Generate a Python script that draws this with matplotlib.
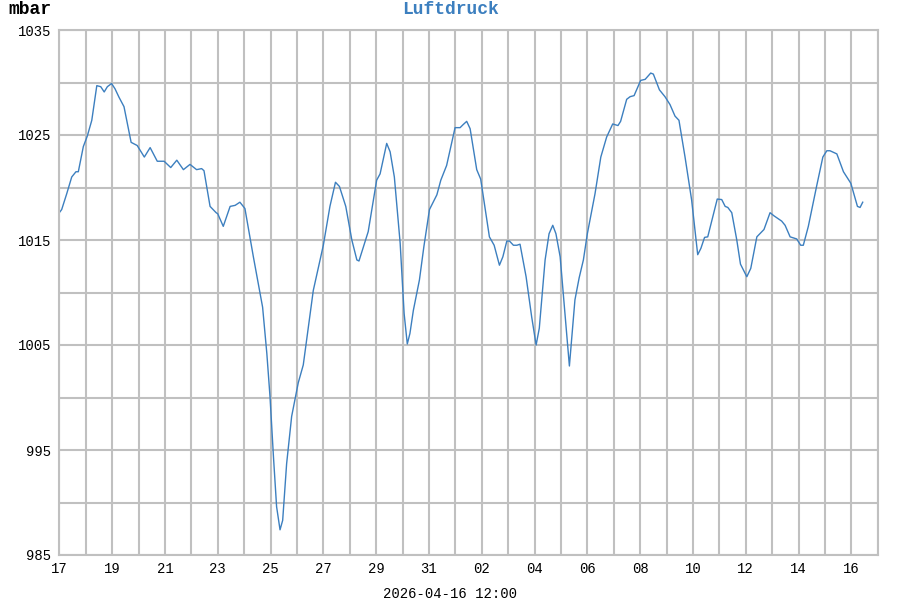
import numpy as np
import pandas as pd
import matplotlib
matplotlib.use("Agg")
from matplotlib import pyplot as plt

# days since 2026-03-17 00:00 and pressure in mbar
day_offset = [
    0.00, 0.09, 0.28, 0.47, 0.63, 0.72, 0.91, 1.06, 1.23, 1.42, 1.57, 1.70, 1.82, 1.98,
    2.11, 2.26, 2.45, 2.72, 2.95, 3.22, 3.44, 3.71, 3.97, 4.22, 4.45, 4.70, 4.95, 5.20,
    5.39, 5.48, 5.71, 5.94, 6.00, 6.21, 6.47, 6.66, 6.84, 7.03, 7.35, 7.70, 7.86, 7.98,
    8.11, 8.23, 8.36, 8.46, 8.61, 8.80, 9.05, 9.24, 9.62, 10.00, 10.25, 10.46, 10.61,
    10.85, 11.08, 11.27, 11.35, 11.70, 12.02, 12.15, 12.40, 12.53, 12.69, 12.91, 13.06,
    13.18, 13.28, 13.41, 13.64, 13.81, 14.02, 14.30, 14.45, 14.67, 14.99, 15.18, 15.30,
    15.43, 15.56, 15.81, 15.96, 16.29, 16.47, 16.67, 16.80, 16.95, 17.05, 17.20, 17.33,
    17.45, 17.68, 17.89, 18.06, 18.18, 18.40, 18.55, 18.69, 18.81, 18.97, 19.16, 19.32,
    19.53, 19.69, 19.85, 20.00, 20.29, 20.51, 20.73, 20.96, 21.16, 21.26, 21.49, 21.62,
    21.77, 22.02, 22.19, 22.40, 22.50, 22.73, 22.94, 23.13, 23.32, 23.47, 23.70, 23.95,
    24.18, 24.30, 24.44, 24.56, 24.92, 25.09, 25.22, 25.32, 25.47, 25.66, 25.80, 26.04,
    26.19, 26.42, 26.69, 26.92, 27.07, 27.36, 27.49, 27.68, 27.93, 28.08, 28.18, 28.37,
    28.69, 28.92, 29.07, 29.19, 29.45, 29.70, 29.98, 30.23, 30.33, 30.43,
]
pressure = [
    1017.6, 1017.9, 1019.4, 1021.0, 1021.5, 1021.5, 1023.9, 1024.9, 1026.4, 1029.7, 1029.6,
    1029.1, 1029.6, 1029.9, 1029.4, 1028.6, 1027.7, 1024.3, 1024.0, 1022.9, 1023.8, 1022.5,
    1022.5, 1021.9, 1022.6, 1021.7, 1022.2, 1021.7, 1021.8, 1021.6, 1018.2, 1017.6, 1017.5,
    1016.3, 1018.2, 1018.3, 1018.6, 1018.0, 1013.4, 1008.6, 1004.2, 1000.1, 994.4, 989.6,
    987.4, 988.3, 993.7, 998.2, 1001.4, 1003.1, 1010.2, 1014.5, 1018.2, 1020.5, 1020.1,
    1018.2, 1015.0, 1013.1, 1013.0, 1015.8, 1020.7, 1021.3, 1024.2, 1023.4, 1021.0, 1014.7,
    1008.0, 1005.1, 1006.1, 1008.3, 1011.2, 1014.4, 1017.9, 1019.3, 1020.7, 1022.1, 1025.7,
    1025.7, 1026.0, 1026.3, 1025.6, 1021.7, 1020.8, 1015.3, 1014.5, 1012.6, 1013.4, 1014.9,
    1014.9, 1014.5, 1014.5, 1014.6, 1011.5, 1007.7, 1005.0, 1006.6, 1013.1, 1015.6, 1016.4,
    1015.6, 1013.4, 1007.7, 1003.0, 1009.3, 1011.4, 1013.1, 1015.6, 1019.4, 1022.9, 1024.8,
    1026.05, 1025.9, 1026.3, 1028.4, 1028.65, 1028.75, 1030.2, 1030.3, 1030.9, 1030.8, 1029.3,
    1028.65, 1027.9, 1026.8, 1026.4, 1022.9, 1018.8, 1013.6, 1014.2, 1015.25, 1015.3, 1018.9,
    1018.85, 1018.2, 1018.1, 1017.6, 1015.0, 1012.7, 1011.5, 1012.3, 1015.3, 1016.0, 1017.6,
    1017.3, 1016.8, 1016.4, 1015.3, 1015.1, 1014.5, 1014.5, 1016.3, 1020.2, 1022.9, 1023.5,
    1023.5, 1023.2, 1021.5, 1020.4, 1018.2, 1018.1, 1018.6,
]

start = pd.Timestamp("2026-03-17")
y_ticks = [985, 995, 1005, 1015, 1025, 1035]
stamp = "2026-04-16 12:00"

times = start + pd.to_timedelta(day_offset, unit="D")
days = pd.date_range(start, periods=32, freq="D")
label_days = days[::2]

mono = "Liberation Mono"
grid_c = "#c0c0c0"

fig = plt.figure(figsize=(9, 6), dpi=100)
ax = fig.add_axes([0.0659, 0.075, 0.9094, 0.875])
ax.plot(times, pressure, color="#3c7fbf", lw=1.0)

ax.set_xlim(days[0], days[-1])
ax.set_ylim(985, 1035)
ax.set_xticks(days, minor=True)
ax.set_xticks(label_days)
ax.set_xticklabels([d.strftime("%d") for d in label_days])
ax.set_yticks(np.arange(985, 1036, 5), minor=True)
ax.set_yticks(y_ticks)
ax.grid(True, which="both", color=grid_c, lw=1.5)
ax.set_axisbelow(True)
ax.tick_params(which="both", length=0, labelsize=10)
ax.tick_params(axis="y", pad=6)
ax.tick_params(axis="x", pad=5)
for lab in ax.get_xticklabels() + ax.get_yticklabels():
    lab.set_family(mono)
for sp in ax.spines.values():
    sp.set_color(grid_c)
    sp.set_linewidth(1.5)

fig.text(0.009, 0.985, "mbar", family=mono, weight="bold", fontsize=13, va="center", ha="left")
fig.text(0.5, 0.985, "Luftdruck", family=mono, weight="bold", fontsize=13, color="#3c7fbf",
         va="center", ha="center")
fig.text(0.5, 0.01, stamp, family=mono, fontsize=10, ha="center", va="center")

plt.savefig("out.png", dpi=100)
